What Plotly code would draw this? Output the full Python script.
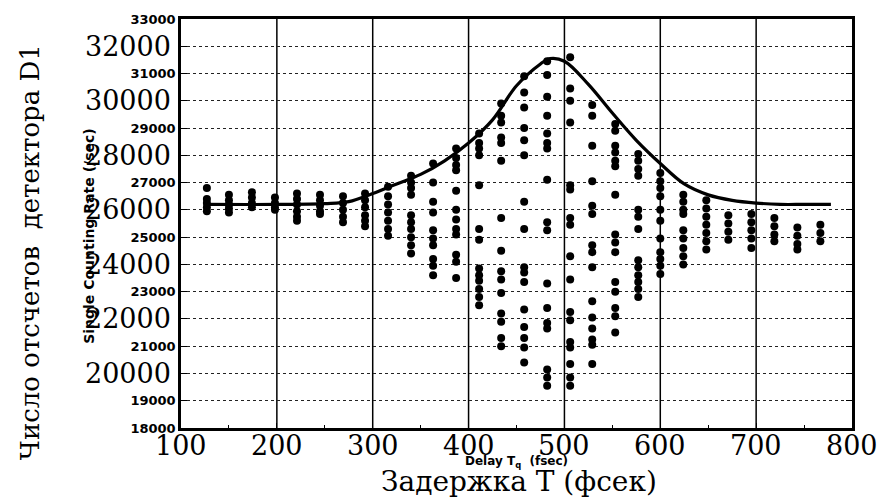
import plotly.graph_objects as go

# ---- data ----
delays = [127, 150, 174, 198, 221, 245, 269, 292, 316, 340, 363, 387, 411, 434,
          458, 482, 506, 529, 553, 577, 600, 624, 648, 671, 695, 719, 743, 767]

counts = [
    [26800, 26400, 26250, 26100, 25950],
    [26550, 26350, 26200, 26050, 25900],
    [26650, 26450, 26250, 26100],
    [26450, 26250, 26100, 26000],
    [26600, 26400, 26200, 25950, 25750, 25600],
    [26550, 26350, 26150, 25950, 25850],
    [26500, 26250, 26000, 25750, 25550],
    [26600, 26350, 26100, 25800, 25600, 25400],
    [26850, 26500, 26200, 25900, 25600, 25300, 25050],
    [27250, 27000, 26800, 26550, 25800, 25550, 25300, 25000, 24700, 24400],
    [27700, 27000, 26300, 25900, 25250, 24950, 24700, 24200, 23950, 23600],
    [28250, 27900, 27650, 27450, 26700, 26000, 25650, 25300, 25100, 24350, 24100, 23500],
    [28800, 28450, 28250, 28000, 26900, 25300, 24900, 23850, 23600, 23400, 23100, 22800, 22500],
    [29900, 29450, 29200, 28650, 28450, 27800, 25700, 24500, 23750, 23450, 22950, 22200, 21900, 21300, 21000],
    [30900, 30300, 29750, 29000, 28550, 28000, 26300, 25300, 23900, 23700, 23350, 22350, 21700, 21300, 20950, 20400],
    [31450, 30950, 30150, 29450, 28800, 28450, 28250, 27100, 25550, 25250, 23300, 22400, 21850, 21650, 20150, 19850, 19550],
    [31600, 30450, 30000, 29200, 26900, 26750, 25700, 25450, 24300, 23450, 22250, 21950, 21150, 20950, 20350, 19850, 19550],
    [29850, 29450, 28350, 27050, 26150, 25850, 24700, 24450, 23900, 22650, 22050, 21650, 21250, 21050, 20350],
    [29150, 28900, 28350, 28100, 27800, 27600, 26550, 25100, 24800, 24450, 23350, 23000, 22400, 22100, 21500],
    [28050, 27800, 27500, 27250, 26000, 25750, 25300, 24150, 23900, 23600, 23350, 23100, 22800],
    [27350, 27050, 26800, 26500, 26000, 25600, 24950, 24450, 24200, 23950, 23650],
    [26550, 26300, 26000, 25850, 25250, 24950, 24600, 24300, 24000],
    [26350, 26050, 25750, 25450, 25150, 24850, 24550],
    [25800, 25500, 25200, 24900],
    [25850, 25550, 25250, 24950, 24600],
    [25700, 25400, 25100, 24850],
    [25350, 25050, 24750, 24550],
    [25450, 25150, 24850],
]

curve_x = [125, 200, 250, 275, 300, 325, 350, 375, 400, 425, 450, 475, 485,
           500, 525, 550, 575, 600, 625, 650, 675, 700, 725, 750, 778]
curve_y = [26200, 26200, 26230, 26300, 26600, 26950, 27300, 27800, 28450, 29300,
           30550, 31350, 31550, 31450, 30600, 29550, 28550, 27700, 26950, 26550,
           26350, 26250, 26200, 26200, 26200]

y_grid = list(range(18000, 33001, 1000))
y_small_labels = [18000, 19000, 21000, 23000, 25000, 27000, 29000, 31000, 33000]
y_big_labels = list(range(20000, 32001, 2000))
x_ticks = [100, 200, 300, 400, 500, 600, 700, 800]

# ---- build flat arrays ----
px, py = [], []
for d, col in zip(delays, counts):
    for c in col:
        px.append(d)
        py.append(c)

fig = go.Figure()
fig.add_trace(go.Scatter(x=px, y=py, mode="markers",
                         marker=dict(color="black", size=8, symbol="circle"),
                         showlegend=False, hoverinfo="x+y"))
fig.add_trace(go.Scatter(x=curve_x, y=curve_y, mode="lines",
                         line=dict(color="black", width=3.2, shape="spline", smoothing=1.0),
                         showlegend=False))

# vertical solid grid lines
for xv in x_ticks[1:-1]:
    fig.add_shape(type="line", x0=xv, x1=xv, y0=0, y1=1, xref="x", yref="paper",
                  line=dict(color="black", width=1.5), layer="below")

annotations = []
for v in y_big_labels:
    annotations.append(dict(x=-0.012, y=v, xref="paper", yref="y", text=str(v),
                            showarrow=False, xanchor="right", yanchor="middle",
                            font=dict(family="DejaVu Serif", size=27, color="black")))
for v in x_ticks:
    annotations.append(dict(x=v, y=-0.044, xref="x", yref="paper", text=str(v),
                            showarrow=False, xanchor="center", yanchor="middle",
                            font=dict(family="DejaVu Serif", size=27, color="black")))

annotations.append(dict(x=-0.225, y=0.43, xref="paper", yref="paper",
                        text="Число отсчетов  детектора D1", textangle=-90,
                        xanchor="center", yanchor="middle",
                        showarrow=False, font=dict(family="DejaVu Serif", size=26, color="black")))
annotations.append(dict(x=-0.137, y=0.47, xref="paper", yref="paper",
                        text="<b>Single Counting Rate (/sec)</b>", textangle=-90,
                        xanchor="center", yanchor="middle",
                        showarrow=False, font=dict(family="DejaVu Sans", size=14, color="black")))
annotations.append(dict(x=0.504, y=-0.132, xref="paper", yref="paper",
                        text="Задержка T (фсек)", showarrow=False,
                        xanchor="center", yanchor="middle",
                        font=dict(family="DejaVu Serif", size=28, color="black")))
annotations.append(dict(x=0.5, y=-0.082, xref="paper", yref="paper",
                        text="<b>Delay T<sub>q</sub>  (fsec)</b>", showarrow=False,
                        xanchor="center", yanchor="middle",
                        font=dict(family="DejaVu Sans", size=12, color="black")))

fig.update_layout(
    width=882, height=501,
    margin=dict(l=181, r=30, t=15, b=73),
    paper_bgcolor="white", plot_bgcolor="white",
    annotations=annotations,
    xaxis=dict(range=[100, 800], tickvals=x_ticks, showticklabels=False,
               showgrid=False, zeroline=False, showline=True, linecolor="black",
               linewidth=2.5, mirror=True, ticks="inside", ticklen=5, tickcolor="black",
               minor=dict(ticks="inside", ticklen=3, dtick=50, tickcolor="black")),
    yaxis=dict(range=[18000, 33000], tickvals=y_grid,
               ticktext=[str(v) if v in y_small_labels else "" for v in y_grid],
               showgrid=True, gridcolor="#222", griddash="dot", gridwidth=1.3,
               zeroline=False, showline=True, linecolor="black", linewidth=2.5,
               mirror="ticks", ticks="inside", ticklen=6, tickcolor="black",
               tickfont=dict(family="DejaVu Sans", size=13, color="black", weight="bold")),
)

fig.write_html("out.html")
